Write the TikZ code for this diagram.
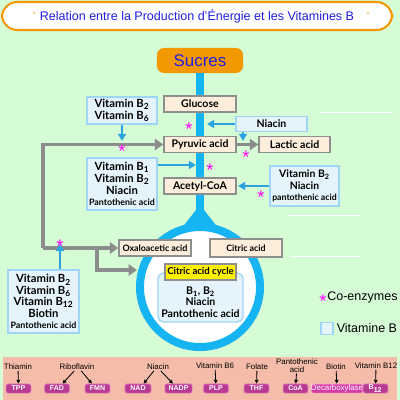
\documentclass[tikz,border=0pt]{standalone}
\usepackage{fontspec}
\setmainfont{Liberation Sans}
\newfontfamily\labelfont{Lato}
\usetikzlibrary{arrows.meta,positioning}

\definecolor{bggreen}{HTML}{D6FCD6}
\definecolor{frameorange}{HTML}{F39800}
\definecolor{titleblue}{HTML}{2020E0}
\definecolor{boxbeige}{HTML}{FDEDDB}
\definecolor{boxgray}{HTML}{8E8E8E}
\definecolor{vitfill}{HTML}{E5F3FD}
\definecolor{vitedge}{HTML}{9FD5F5}
\definecolor{flowcyan}{HTML}{16B4F2}
\definecolor{arrowblue}{HTML}{2BA3DF}
\definecolor{loopgray}{HTML}{8C8C8C}
\definecolor{coenzpink}{HTML}{FF00FF}
\definecolor{bandsalmon}{HTML}{F4BCA9}
\definecolor{enzfill}{HTML}{B93A92}
\definecolor{enzedge}{HTML}{E27BC0}
\definecolor{decarbpink}{HTML}{D43CA8}
\definecolor{cycleyellow}{HTML}{FFF200}

\tikzset{
  metab/.style={draw=boxgray, line width=1pt, fill=boxbeige, inner sep=0pt,
    minimum width=1.8cm, minimum height=0.4cm,
    font=\labelfont\bfseries\fontsize{7.5}{8}\selectfont},
  vitbox/.style={draw=vitedge, line width=1pt, fill=vitfill, inner sep=0pt, align=center,
    font=\labelfont\bfseries\fontsize{8}{8.4}\selectfont},
  bluearrow/.style={arrowblue, line width=1.4pt, -{Triangle[length=5pt,width=5.5pt]}},
  grayarrow/.style={loopgray, line width=2.8pt, -{Triangle[length=6pt,width=8pt]}},
  coenzstar/.style={text=coenzpink, inner sep=0pt, font=\fontsize{13}{13}\selectfont, yshift=-2.8pt},
  enzyme/.style={fill=enzfill, draw=enzedge, line width=0.5pt, rounded corners=1.5pt, text=white,
    inner sep=0pt, minimum width=0.62cm, minimum height=0.23cm,
    font=\bfseries\fontsize{5}{5}\selectfont},
  vitname/.style={inner sep=0.5pt, align=center, font=\fontsize{5.6}{5.8}\selectfont},
  enzarrow/.style={black, line width=0.6pt, -{Triangle[length=2.6pt,width=2.6pt]}},
}

\begin{document}
\begin{tikzpicture}[x=0.025cm,y=-0.025cm]
\useasboundingbox (0,0) rectangle (400,400);
\fill[bggreen] (0,0) rectangle (400,400);
\fill[bandsalmon] (3,357) rectangle (397,400);
\draw[white, line width=0.5pt] (320,112) -- (393,112) (288,215) -- (360,215) (290,256) -- (360,256);

% title
\node[draw=frameorange, line width=1.5pt, fill=white, rounded corners=11pt,
  minimum width=9.75cm, minimum height=0.7cm, text=titleblue,
  font=\fontsize{8.9}{10}\selectfont] (title) at (197,16)
  {Relation entre la Production d'Énergie et les Vitamines B};
\fill[frameorange] (34,13) circle[radius=0.7pt] (368,13) circle[radius=0.7pt];

% main flow
\node[fill=frameorange, rounded corners=5pt, minimum width=2.15cm, minimum height=0.625cm,
  text=titleblue, font=\fontsize{12}{12}\selectfont] (sucres) at (200,60.5) {Sucres};
\node[circle, draw=flowcyan, line width=0.2cm, fill=white, minimum size=3cm, inner sep=0pt]
  (krebs) at (200,287) {};
\draw[flowcyan, line width=0.2cm] (sucres.south) -- (krebs.north);
\fill[flowcyan] ([xshift=-0.45cm,yshift=-0.12cm]krebs.north) -- ([yshift=0.45cm]krebs.north)
  -- ([xshift=0.45cm,yshift=-0.12cm]krebs.north) -- cycle;

\node[metab] (glucose) at (200,104) {Glucose};
\node[metab] (pyruvic) at (200,144.5) {Pyruvic acid};
\node[metab, minimum width=1.775cm] (lactic) at (294.5,144.5) {Lactic acid};
\node[metab] (acetyl) at (200,186) {Acetyl-CoA};
\node[metab, font=\labelfont\bfseries\fontsize{6.3}{7}\selectfont] (oxalo) at (155,248) {Oxaloacetic acid};
\node[metab, minimum height=0.45cm, font=\labelfont\bfseries\fontsize{6.3}{7}\selectfont] (citric) at (246,248) {Citric acid};

\node[vitbox, rounded corners=4pt, minimum width=2.125cm, minimum height=1.225cm] (cyclevit) at (200.5,297.5) {};
\node[align=center, inner sep=0pt, font=\labelfont\bfseries\fontsize{7.5}{8.2}\selectfont]
  (cyclevittext) at (200.5,302) {B\textsubscript{1}, B\textsubscript{2}\\Niacin\\Pantothenic acid};
\node[fill=cycleyellow, draw=boxgray, line width=0.8pt, inner sep=0pt, minimum width=1.775cm,
  minimum height=0.4cm, font=\labelfont\bfseries\fontsize{6.8}{7}\selectfont]
  (cyclelabel) at (200.5,272) {Citric acid cycle};

% vitamins
\node[vitbox, minimum width=1.75cm, minimum height=0.675cm] (vbsix) at (122,110.5)
  {Vitamin B\textsubscript{2}\\Vitamin B\textsubscript{6}};
\node[vitbox, minimum width=1.775cm, minimum height=0.375cm,
  font=\labelfont\bfseries\fontsize{7.5}{8}\selectfont] (niabox) at (271.5,124) {Niacin};
\node[vitbox, minimum width=1.75cm, minimum height=1.3cm] (vbone) at (122,184)
  {Vitamin B\textsubscript{1}\\Vitamin B\textsubscript{2}\\Niacin\\{\fontsize{6.3}{8}\selectfont Pantothenic acid}};
\node[vitbox, minimum width=1.725cm, minimum height=1.0cm,
  font=\labelfont\bfseries\fontsize{7.4}{8}\selectfont] (vbright) at (304.5,186)
  {Vitamin B\textsubscript{2}\\Niacin\\{\fontsize{6.2}{8}\selectfont pantothenic acid}};
\node[vitbox, minimum width=1.775cm, minimum height=1.575cm,
  font=\labelfont\bfseries\fontsize{8}{8.1}\selectfont] (vblow) at (43.5,301.5)
  {Vitamin B\textsubscript{2}\\Vitamin B\textsubscript{6}\\Vitamin B\textsubscript{12}\\Biotin\\{\fontsize{6.3}{8}\selectfont Pantothenic acid}};

% gray loop
\coordinate (loopfoot) at (43,248);
\coordinate (forkpt) at (97,248);
\coordinate (cyclein) at (137,270);
\draw[grayarrow] (loopfoot) |- (pyruvic);
\draw[grayarrow] (loopfoot) -- (oxalo);
\draw[grayarrow] (forkpt) |- (cyclein);
\draw[grayarrow] (pyruvic) -- (lactic);

% blue arrows
\coordinate (sixtip) at (122,141);
\coordinate (niatip) at (207,124);
\coordinate (niadown) at (243,141);
\coordinate (onetip) at (196,165);
\coordinate (righttip) at (238,186);
\coordinate (lowtip) at (60,244);
\draw[bluearrow] (vbsix) -- (sixtip);
\draw[bluearrow] (niabox) -- (niatip);
\draw[bluearrow] (niadown |- niabox.south) -- (niadown);
\draw[bluearrow] (vbone.east |- onetip) -- (onetip);
\draw[bluearrow] (vbright) -- (righttip);
\draw[bluearrow] (vblow.north -| lowtip) -- (lowtip);

% co-enzyme marks
\node[coenzstar] (starA) at (189,125) {*};
\node[coenzstar] (starB) at (122,147.5) {*};
\node[coenzstar] (starC) at (246,153) {*};
\node[coenzstar] (starD) at (210,166) {*};
\node[coenzstar] (starE) at (261,193) {*};
\node[coenzstar] (starF) at (60,242) {*};

% legend
\node[coenzstar] (legstar) at (323,297) {*};
\node[anchor=west, inner sep=0pt, font=\fontsize{8.9}{10}\selectfont] (legco) at (327,297) {Co-enzymes};
\node[vitbox, minimum size=0.3cm] (legbox) at (327,328.5) {};
\node[right=2pt of legbox, inner sep=0pt, font=\fontsize{8.9}{10}\selectfont] (legvit) {Vitamine B};

% bottom band
\node[vitname] (thiamin) at (18,367) {Thiamin};
\node[vitname] (ribo) at (77,367) {Riboflavin};
\node[vitname] (niac) at (158,367) {Niacin};
\node[vitname] (bsix) at (215,366) {Vitamin B6};
\node[vitname] (folate) at (257,367) {Folate};
\node[vitname] (panto) at (297,365.5) {Pantothenic\\acid};
\node[vitname] (biotin) at (336,367) {Biotin};
\node[vitname] (btwelvename) at (376,366) {Vitamin B12};

\node[enzyme] (tpp) at (18.5,388.5) {TPP};
\node[enzyme] (fad) at (57,388.5) {FAD};
\node[enzyme] (fmn) at (97.5,388.5) {FMN};
\node[enzyme, minimum width=0.65cm] (nad) at (138,388.5) {NAD};
\node[enzyme, minimum width=0.68cm] (nadp) at (178.5,388.5) {NADP};
\node[enzyme] (plp) at (216,388.5) {PLP};
\node[enzyme] (thf) at (256.5,388.5) {THF};
\node[enzyme] (coa) at (295.5,388.5) {CoA};
\node[enzyme, fill=decarbpink, draw=pink, minimum width=1.05cm,
  font=\fontsize{5.6}{6}\selectfont] (decarb) at (337,388.5) {Decarboxylase};
\node[enzyme] (btwelve) at (375.5,388.5) {B\textsubscript{12}};

\draw[enzarrow] (thiamin) -- (tpp);
\draw[enzarrow] ([xshift=-2pt]ribo.south) -- ([xshift=4pt]fad.north);
\draw[enzarrow] ([xshift=3pt]ribo.south) -- ([xshift=-4pt]fmn.north);
\draw[enzarrow] ([xshift=-3pt]niac.south) -- ([xshift=4pt]nad.north);
\draw[enzarrow] ([xshift=2pt]niac.south) -- ([xshift=-4pt]nadp.north);
\draw[enzarrow] (bsix) -- (plp);
\draw[enzarrow] (folate) -- (thf);
\draw[enzarrow] (panto) -- (coa);
\draw[enzarrow] (biotin) -- (decarb);
\draw[enzarrow] (btwelvename) -- (btwelve);
\end{tikzpicture}
\end{document}
